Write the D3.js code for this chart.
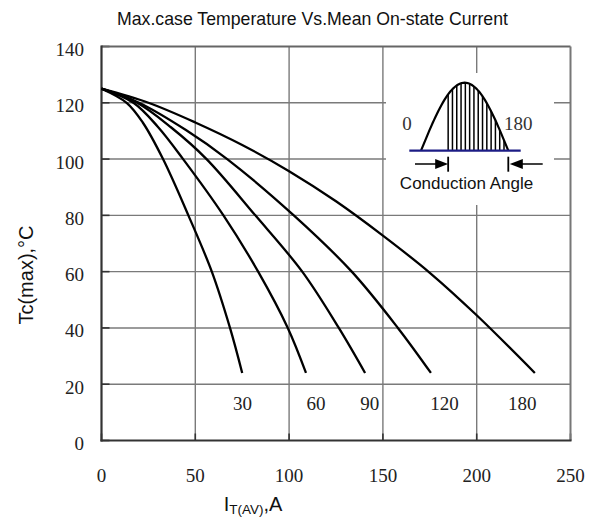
<!DOCTYPE html>
<html>
<head>
<meta charset="utf-8">
<script src="https://cdn.jsdelivr.net/npm/d3@7/dist/d3.min.js"></script>
<style>
  html, body { margin: 0; padding: 0; background: #fff; }
  svg { display: block; }
</style>
</head>
<body>
<svg id="chart" width="593" height="518"></svg>
<script>
// ---- data ----
const xTicks = [0, 50, 100, 150, 200, 250];
const yTicks = [0, 20, 40, 60, 80, 100, 120, 140];
const angleLabels = ["30", "60", "90", "120", "180"];
const labelX = [75.2, 114.3, 143, 182.8, 224.3];
const labelY = 10.7;

const iT_30 = [0, 13.4, 22, 32.8, 46.3, 58.8, 68.5, 75];
const tc_30 = [125, 120, 113, 100, 80, 60, 40, 24];
const iT_60 = [0, 17, 30, 43.5, 65, 83.5, 99.3, 109];
const tc_60 = [125, 120, 111.5, 100, 80, 60, 40, 24];
const iT_90 = [0, 19, 37, 56, 82, 107, 126.5, 140.5];
const tc_90 = [125, 120, 111.3, 100, 80, 60, 40, 24];
const iT_120 = [0, 20, 45, 67, 102.5, 133.4, 158, 175.6];
const tc_120 = [125, 120, 110.3, 100, 80, 60, 40, 24];
const iT_180 = [0, 25, 50, 75, 100, 125, 150, 175, 200, 231];
const tc_180 = [125, 120, 113, 105, 95.7, 85, 72.8, 59.6, 44.5, 24];

const seriesX = [iT_30, iT_60, iT_90, iT_120, iT_180];
const seriesY = [tc_30, tc_60, tc_90, tc_120, tc_180];

// ---- drawing ----
const svg = d3.select("#chart");
const x = d3.scaleLinear().domain([0, 250]).range([101.5, 570.5]);
const y = d3.scaleLinear().domain([0, 140]).range([440.5, 46.5]);
const serif = "'Liberation Serif', 'Times New Roman', serif";
const sans = "'Liberation Sans', Arial, sans-serif";

// title
svg.append("text").attr("x", 312.5).attr("y", 24.5).attr("text-anchor", "middle")
  .attr("font-family", sans).attr("font-size", 17.7).attr("fill", "#111")
  .text("Max.case Temperature Vs.Mean On-state Current");

// grid
const g = svg.append("g");
g.selectAll(".vg").data(xTicks.slice(1, -1)).enter().append("line")
  .attr("x1", d => x(d)).attr("x2", d => x(d)).attr("y1", y(140)).attr("y2", y(0))
  .attr("stroke", "#7a7a7a").attr("stroke-width", 1.4);
g.selectAll(".hg").data(yTicks.slice(1, -1)).enter().append("line")
  .attr("x1", x(0)).attr("x2", x(250)).attr("y1", d => y(d)).attr("y2", d => y(d))
  .attr("stroke", "#7a7a7a").attr("stroke-width", 1.4);

// inward ticks
g.selectAll(".yt").data(yTicks).enter().append("line")
  .attr("x1", x(0)).attr("x2", x(0) + 8).attr("y1", d => y(d)).attr("y2", d => y(d))
  .attr("stroke", "#333").attr("stroke-width", 1.6);
g.selectAll(".xt").data(xTicks).enter().append("line")
  .attr("x1", d => x(d)).attr("x2", d => x(d)).attr("y1", y(0)).attr("y2", y(0) - 7)
  .attr("stroke", "#333").attr("stroke-width", 1.6);

// frame
g.append("line").attr("x1", x(0)).attr("x2", x(250)).attr("y1", y(140)).attr("y2", y(140))
  .attr("stroke", "#666").attr("stroke-width", 2);
g.append("line").attr("x1", x(250)).attr("x2", x(250)).attr("y1", y(140)).attr("y2", y(0))
  .attr("stroke", "#777").attr("stroke-width", 2);
g.append("line").attr("x1", x(0)).attr("x2", x(0)).attr("y1", y(140) - 1).attr("y2", y(0) + 1)
  .attr("stroke", "#333").attr("stroke-width", 2.2);
g.append("line").attr("x1", x(0) - 1).attr("x2", x(250) + 1).attr("y1", y(0)).attr("y2", y(0))
  .attr("stroke", "#333").attr("stroke-width", 2.2);

// tick labels
svg.selectAll(".yl").data(yTicks).enter().append("text")
  .attr("x", 84).attr("y", d => y(d) + 9.5).attr("text-anchor", "end")
  .attr("font-family", serif).attr("font-size", 19).attr("fill", "#222")
  .text(d => d);
svg.selectAll(".xl").data(xTicks).enter().append("text")
  .attr("x", d => x(d)).attr("y", 482).attr("text-anchor", "middle")
  .attr("font-family", serif).attr("font-size", 19).attr("fill", "#222")
  .text(d => d);

// axis titles
svg.append("text").attr("transform", "translate(33,275) rotate(-90)")
  .attr("text-anchor", "middle").attr("font-family", sans).attr("font-size", 20).attr("fill", "#111")
  .text("Tc(max),°C");
const xt = svg.append("text").attr("x", 253).attr("y", 511).attr("text-anchor", "middle")
  .attr("font-family", sans).attr("font-size", 20).attr("fill", "#111");
xt.append("tspan").text("I");
xt.append("tspan").attr("font-size", 13.5).attr("dy", 3).text("T(AV)");
xt.append("tspan").attr("dy", -3).text(",A");

// inset background
svg.append("rect").attr("x", 386).attr("y", 73).attr("width", 168).attr("height", 132).attr("fill", "#fff");

// curves
const line = d3.line().x(d => x(d[0])).y(d => y(d[1])).curve(d3.curveCatmullRom.alpha(0.5));
seriesX.forEach((xs, i) => {
  const pts = xs.map((v, j) => [v, seriesY[i][j]]);
  svg.append("path").attr("d", line(pts)).attr("fill", "none")
    .attr("stroke", "#000").attr("stroke-width", 2.3).attr("stroke-linejoin", "round");
});

// curve labels
svg.selectAll(".cl").data(angleLabels).enter().append("text")
  .attr("x", (d, i) => x(labelX[i])).attr("y", y(labelY)).attr("text-anchor", "middle")
  .attr("font-family", serif).attr("font-size", 19).attr("fill", "#222")
  .text(d => d);

// ---- inset: conduction angle illustration ----
const ax = d3.scaleLinear().domain([0, 180]).range([421, 508.3]);
const ay = d3.scaleLinear().domain([0, 1]).range([150.7, 82.7]);
const alpha = 56;
const sinePts = d3.range(0, 181, 3).map(a => [a, Math.sin(a * Math.PI / 180)]);
const ins = svg.append("g");
const hatch = d3.range(0, 15).map(k => alpha + k * (180 - alpha) / 14);
ins.selectAll(".h").data(hatch).enter().append("line")
  .attr("x1", a => ax(a)).attr("x2", a => ax(a))
  .attr("y1", ay(0)).attr("y2", a => ay(Math.sin(a * Math.PI / 180)))
  .attr("stroke", "#000").attr("stroke-width", 1.5);
ins.append("path").attr("d", d3.line().x(d => ax(d[0])).y(d => ay(d[1]))(sinePts))
  .attr("fill", "none").attr("stroke", "#000").attr("stroke-width", 2.2);
ins.append("line").attr("x1", 409.3).attr("x2", 520.7).attr("y1", ay(0)).attr("y2", ay(0))
  .attr("stroke", "#1c1c85").attr("stroke-width", 2.2);
const arY = 164;
ins.append("line").attr("x1", 415).attr("x2", 440).attr("y1", arY).attr("y2", arY)
  .attr("stroke", "#000").attr("stroke-width", 1.5);
ins.append("path").attr("d", `M${ax(alpha)},${arY} L${ax(alpha) - 13},${arY - 5} L${ax(alpha) - 13},${arY + 5} Z`).attr("fill", "#000");
ins.append("line").attr("x1", ax(alpha)).attr("x2", ax(alpha)).attr("y1", 156.7).attr("y2", 171.7)
  .attr("stroke", "#000").attr("stroke-width", 1.8);
ins.append("line").attr("x1", 518).attr("x2", 542.7).attr("y1", arY).attr("y2", arY)
  .attr("stroke", "#000").attr("stroke-width", 1.5);
ins.append("path").attr("d", `M${ax(180) + 1.5},${arY} L${ax(180) + 14.5},${arY - 5} L${ax(180) + 14.5},${arY + 5} Z`).attr("fill", "#000");
ins.append("line").attr("x1", ax(180)).attr("x2", ax(180)).attr("y1", 156.7).attr("y2", 171.7)
  .attr("stroke", "#000").attr("stroke-width", 1.8);
ins.append("text").attr("x", 407).attr("y", 130).attr("text-anchor", "middle")
  .attr("font-family", serif).attr("font-size", 19).attr("fill", "#333").text("0");
ins.append("text").attr("x", 518.3).attr("y", 130).attr("text-anchor", "middle")
  .attr("font-family", serif).attr("font-size", 19).attr("fill", "#333").text("180");
ins.append("text").attr("x", 466.5).attr("y", 188.5).attr("text-anchor", "middle")
  .attr("font-family", sans).attr("font-size", 17).attr("fill", "#111").text("Conduction Angle");
</script>
</body>
</html>
